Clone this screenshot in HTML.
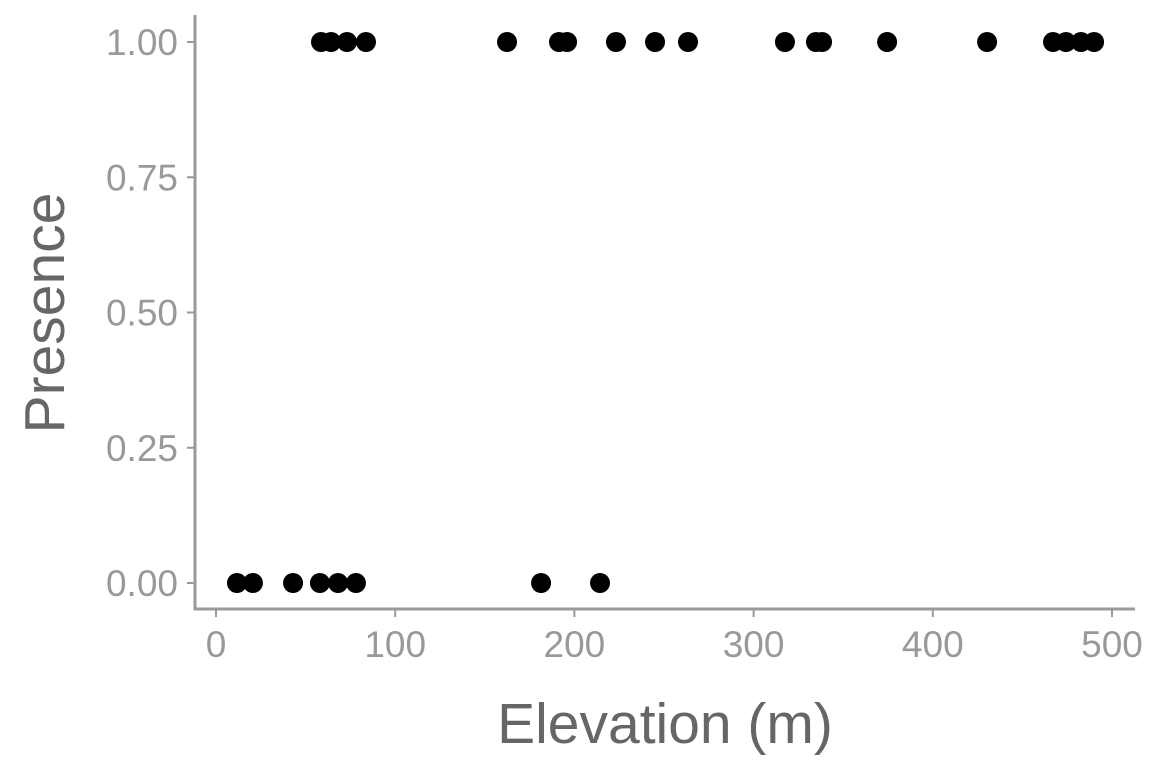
<!DOCTYPE html>
<html><head><meta charset="utf-8"><style>
body{margin:0;background:#fff}
svg{display:block}
text{font-family:"Liberation Sans",sans-serif}
</style></head><body>
<svg id="chart" width="1152" height="768">
<g id="axes"></g><g id="pts"></g>
</svg>
<script>
const presentX=[58.6,64.2,73.1,83.7,162.4,191.4,195.9,223.2,245,263.4,317.5,334.8,338.2,374.5,430.3,467.1,474.3,482.7,490];
const absentX=[11.7,20.6,43,58,68.1,78.1,181.4,214.3];
const xTicks=[0,100,200,300,400,500];
const yTicks=[0,0.25,0.5,0.75,1];
const yTickLabels=["0.00","0.25","0.50","0.75","1.00"];
const xs=v=>216+v*1.792;
const ys=v=>583-v*541;
const NS="http://www.w3.org/2000/svg";
const ax=document.getElementById('axes'),pg=document.getElementById('pts');
function mk(tag,attrs,parent,txt){const e=document.createElementNS(NS,tag);for(const k in attrs)e.setAttribute(k,attrs[k]);if(txt!==undefined)e.textContent=txt;parent.appendChild(e);return e;}
let e;
e=mk('line',{x1:195,y1:15,x2:195,y2:610,stroke:'#999','stroke-width':3},ax);


e=mk('line',{x1:194,y1:609,x2:1135,y2:609,stroke:'#999','stroke-width':3},ax);


yTicks.forEach((v,i)=>{
 mk('line',{x1:187,y1:ys(v),x2:195,y2:ys(v),stroke:'#999','stroke-width':2},ax);
 e=mk('text',{x:178,y:ys(v)+13,'text-anchor':'end','font-size':37,fill:'#999'},ax,yTickLabels[i]);
 
 
});
xTicks.forEach(v=>{
 mk('line',{x1:xs(v),y1:609,x2:xs(v),y2:617,stroke:'#999','stroke-width':2},ax);
 e=mk('text',{x:xs(v),y:657,'text-anchor':'middle','font-size':37,fill:'#999'},ax,String(v));
 
 
});
e=mk('text',{x:665,y:743,'text-anchor':'middle','font-size':57,fill:'#666'},ax,'Elevation (m)');


e=mk('text',{x:0,y:0,'text-anchor':'middle','font-size':57,fill:'#666',transform:'translate(64,313) rotate(-90)'},ax,'Presence');


presentX.forEach(v=>{
 e=mk('circle',{cx:xs(v),cy:ys(1),r:10,fill:'#000'},pg);
 
 
});
absentX.forEach(v=>{
 e=mk('circle',{cx:xs(v),cy:ys(0),r:10,fill:'#000'},pg);
 
 
});
</script>
</body></html>
